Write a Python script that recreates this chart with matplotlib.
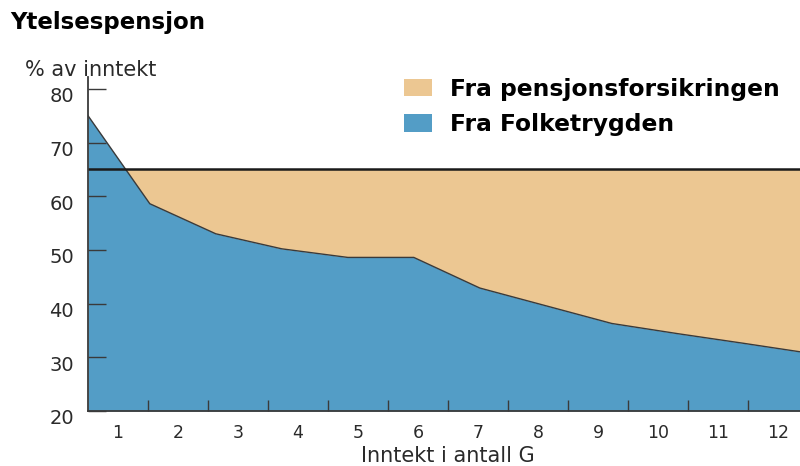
import matplotlib.pyplot as plt
import matplotlib.transforms as mtransforms

# Data (x in units of G, tick boundaries at integers)
inntekt_g = [0.0, 1.03, 2.13, 3.23, 4.33, 5.43, 6.53, 7.63, 8.73, 9.83, 10.93, 12.0]
folketrygd = [75.0, 58.6, 53.0, 50.2, 48.6, 48.6, 42.9, 39.6, 36.3, 34.4, 32.6, 30.8]
maal_niva = 65
kategorier = [str(i) for i in range(1, 13)]
y_ticks = [20, 30, 40, 50, 60, 70, 80]

blue = '#539dc6'
tan = '#ecc792'
dark = '#3a3a3a'
txt = '#2a2a2a'

plt.rcParams['font.family'] = ['DejaVu Sans']

fig = plt.figure(figsize=(8, 4.66), dpi=100)
ax = fig.add_axes([88 / 800, 55 / 466, 720 / 800, 334 / 466])

ax.fill_between(inntekt_g, folketrygd, maal_niva,
                where=[v <= maal_niva + 5 for v in folketrygd],
                interpolate=True, color=tan, lw=0, label='Fra pensjonsforsikringen')
ax.fill_between(inntekt_g, 20, folketrygd, color=blue, lw=0, label='Fra Folketrygden')
ax.plot(inntekt_g, folketrygd, color=dark, lw=1.0)
ax.axhline(maal_niva, color='#1a1a1a', lw=1.8)

ax.set_xlim(0, 12)
ax.set_ylim(20, 82.2)

ax.spines['top'].set_visible(False)
ax.spines['right'].set_visible(False)
for s in ('left', 'bottom'):
    ax.spines[s].set_color(dark)
    ax.spines[s].set_linewidth(1.3)
    ax.spines[s].set_zorder(5)

ax.set_yticks(y_ticks)
ax.set_yticklabels([str(v) for v in y_ticks])
ax.tick_params(axis='y', direction='in', length=13, width=1.0, color=dark,
               labelsize=14, labelcolor=txt, pad=10)
offset = mtransforms.ScaledTranslation(0, -6 / 100, fig.dpi_scale_trans)
for lab in ax.get_yticklabels():
    lab.set_transform(lab.get_transform() + offset)

ax.set_xticks(range(1, 13))
ax.set_xticklabels([])
ax.tick_params(axis='x', which='major', direction='in', length=8, width=1.0, color=dark)
ax.set_xticks([i + 0.5 for i in range(12)], minor=True)
ax.set_xticklabels(kategorier, minor=True)
ax.tick_params(axis='x', which='minor', length=0, labelsize=12.5,
               labelcolor=txt, pad=9)
ax.set_xlabel('Inntekt i antall G', fontsize=15, color=txt)
ax.xaxis.set_label_coords(0.5, -0.104)

ax.legend(loc='upper left',
          bbox_to_anchor=(392 / 800, 1 - 66 / 466), bbox_transform=fig.transFigure,
          frameon=False, borderpad=0, handlelength=1.2, handleheight=0.8,
          handletextpad=0.8, labelspacing=0.55,
          prop={'family': 'DejaVu Sans', 'size': 16.8, 'weight': 'bold'})

fig.text(10 / 800, 1 - 23 / 466, 'Ytelsespensjon', fontsize=16.5, fontweight='bold',
         va='center', ha='left')
fig.text(25 / 800, 1 - 70 / 466, '% av inntekt', fontsize=15, color=txt,
         va='center', ha='left')

fig.savefig('out.png', dpi=100)
